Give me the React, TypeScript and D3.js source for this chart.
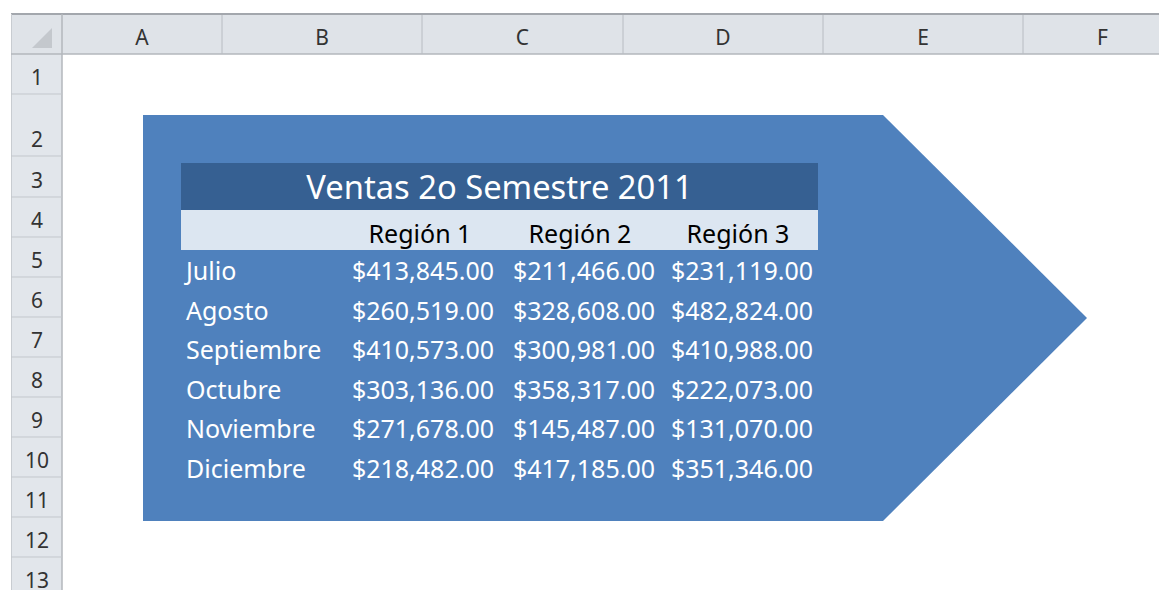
import React from "react";
import * as d3 from "d3";

const columnLetters = ["A", "B", "C", "D", "E", "F"];
const rowNumbers = [1, 2, 3, 4, 5, 6, 7, 8, 9, 10, 11, 12, 13];
const title = "Ventas 2o Semestre 2011";
const regions = ["Región 1", "Región 2", "Región 3"];
const months = ["Julio", "Agosto", "Septiembre", "Octubre", "Noviembre", "Diciembre"];
const region1 = [413845, 260519, 410573, 303136, 271678, 218482];
const region2 = [211466, 328608, 300981, 358317, 145487, 417185];
const region3 = [231119, 482824, 410988, 222073, 131070, 351346];

const W = 1159;
const H = 590;
const FONT = "'Noto Sans', 'Open Sans', sans-serif";

// sheet layout
const colEdges = [62, 222, 422, 623, 823, 1023, 1182];
const rowHeights = [40, 62, 41, 40, 40, 40, 40, 40, 40, 40, 40, 40, 40];
const headerTop = 14;
const headerBottom = 54;

export default function App() {
  const rowEdges: number[] = [headerBottom];
  rowHeights.forEach((h) => rowEdges.push(rowEdges[rowEdges.length - 1] + h));

  const fmt = d3.format("$,.2f");
  const series = [region1, region2, region3];
  const valueRight = [494, 655, 813];
  const headerCenter = [420, 580, 738];

  const y = d3
    .scaleLinear()
    .domain([0, months.length - 1])
    .range([280, 478]);

  const arrow = d3.line()([
    [143, 115],
    [883, 115],
    [1087, 318],
    [883, 521],
    [143, 521],
  ]) + "Z";

  return (
    <svg
      width={W}
      height={H}
      style={{ position: "absolute", left: 0, top: 0, background: "#fff" }}
      fontFamily={FONT}
    >
      <rect x={0} y={0} width={W} height={H} fill="#ffffff" />
      {/* column header band */}
      <rect x={11} y={headerTop} width={W - 11} height={headerBottom - headerTop} fill="#dfe3e8" />
      <line x1={11} x2={W} y1={headerTop} y2={headerTop} stroke="#a3a7ad" strokeWidth={2} />
      {/* row header column */}
      <rect x={11} y={headerBottom} width={62 - 11} height={H - headerBottom} fill="#e2e6eb" />
      <line x1={11.5} x2={11.5} y1={headerTop} y2={H} stroke="#c8ccd1" />
      <line x1={62} x2={62} y1={headerTop} y2={H} stroke="#b3b7bd" strokeWidth={1.5} />
      <line x1={11} x2={W} y1={headerBottom} y2={headerBottom} stroke="#b3b7bd" strokeWidth={1.5} />
      {/* corner triangle */}
      <path d="M52,28 L52,48 L32,48 Z" fill="#c4c8cd" />
      {/* column separators and letters */}
      {colEdges.slice(1, -1).map((x, i) => (
        <line key={"cs" + i} x1={x} x2={x} y1={headerTop + 1} y2={headerBottom} stroke="#b8bcc2" />
      ))}
      {columnLetters.map((c, i) => (
        <text
          key={c}
          x={(colEdges[i] + colEdges[i + 1]) / 2}
          y={45}
          textAnchor="middle"
          fontSize={21}
          fill="#333"
        >
          {c}
        </text>
      ))}
      {/* row separators and numbers */}
      {rowEdges.slice(1).map((yy, i) => (
        <line key={"rs" + i} x1={11} x2={62} y1={yy} y2={yy} stroke="#c3c7cc" />
      ))}
      {rowNumbers.map((n, i) => (
        <text
          key={"rn" + n}
          x={37}
          y={rowEdges[i + 1] - 9}
          textAnchor="middle"
          fontSize={21}
          fill="#333"
        >
          {n}
        </text>
      ))}
      {/* arrow shape */}
      <path d={arrow} fill="#4f81bd" />
      {/* table */}
      <rect x={181} y={163} width={818 - 181} height={210 - 163} fill="#366092" />
      <rect x={181} y={210} width={818 - 181} height={250 - 210} fill="#dce6f1" />
      <text x={499.5} y={199} textAnchor="middle" fontSize={32.7} fill="#ffffff">
        {title}
      </text>
      {regions.map((r, i) => (
        <text key={r} x={headerCenter[i]} y={243} textAnchor="middle" fontSize={25} fill="#000">
          {r}
        </text>
      ))}
      {months.map((m, i) => (
        <g key={m}>
          <text x={186} y={y(i)} fontSize={25} fill="#ffffff">
            {m}
          </text>
          {series.map((s, j) => (
            <text
              key={j}
              x={valueRight[j]}
              y={y(i)}
              textAnchor="end"
              fontSize={25}
              fill="#ffffff"
            >
              {fmt(s[i])}
            </text>
          ))}
        </g>
      ))}
    </svg>
  );
}
